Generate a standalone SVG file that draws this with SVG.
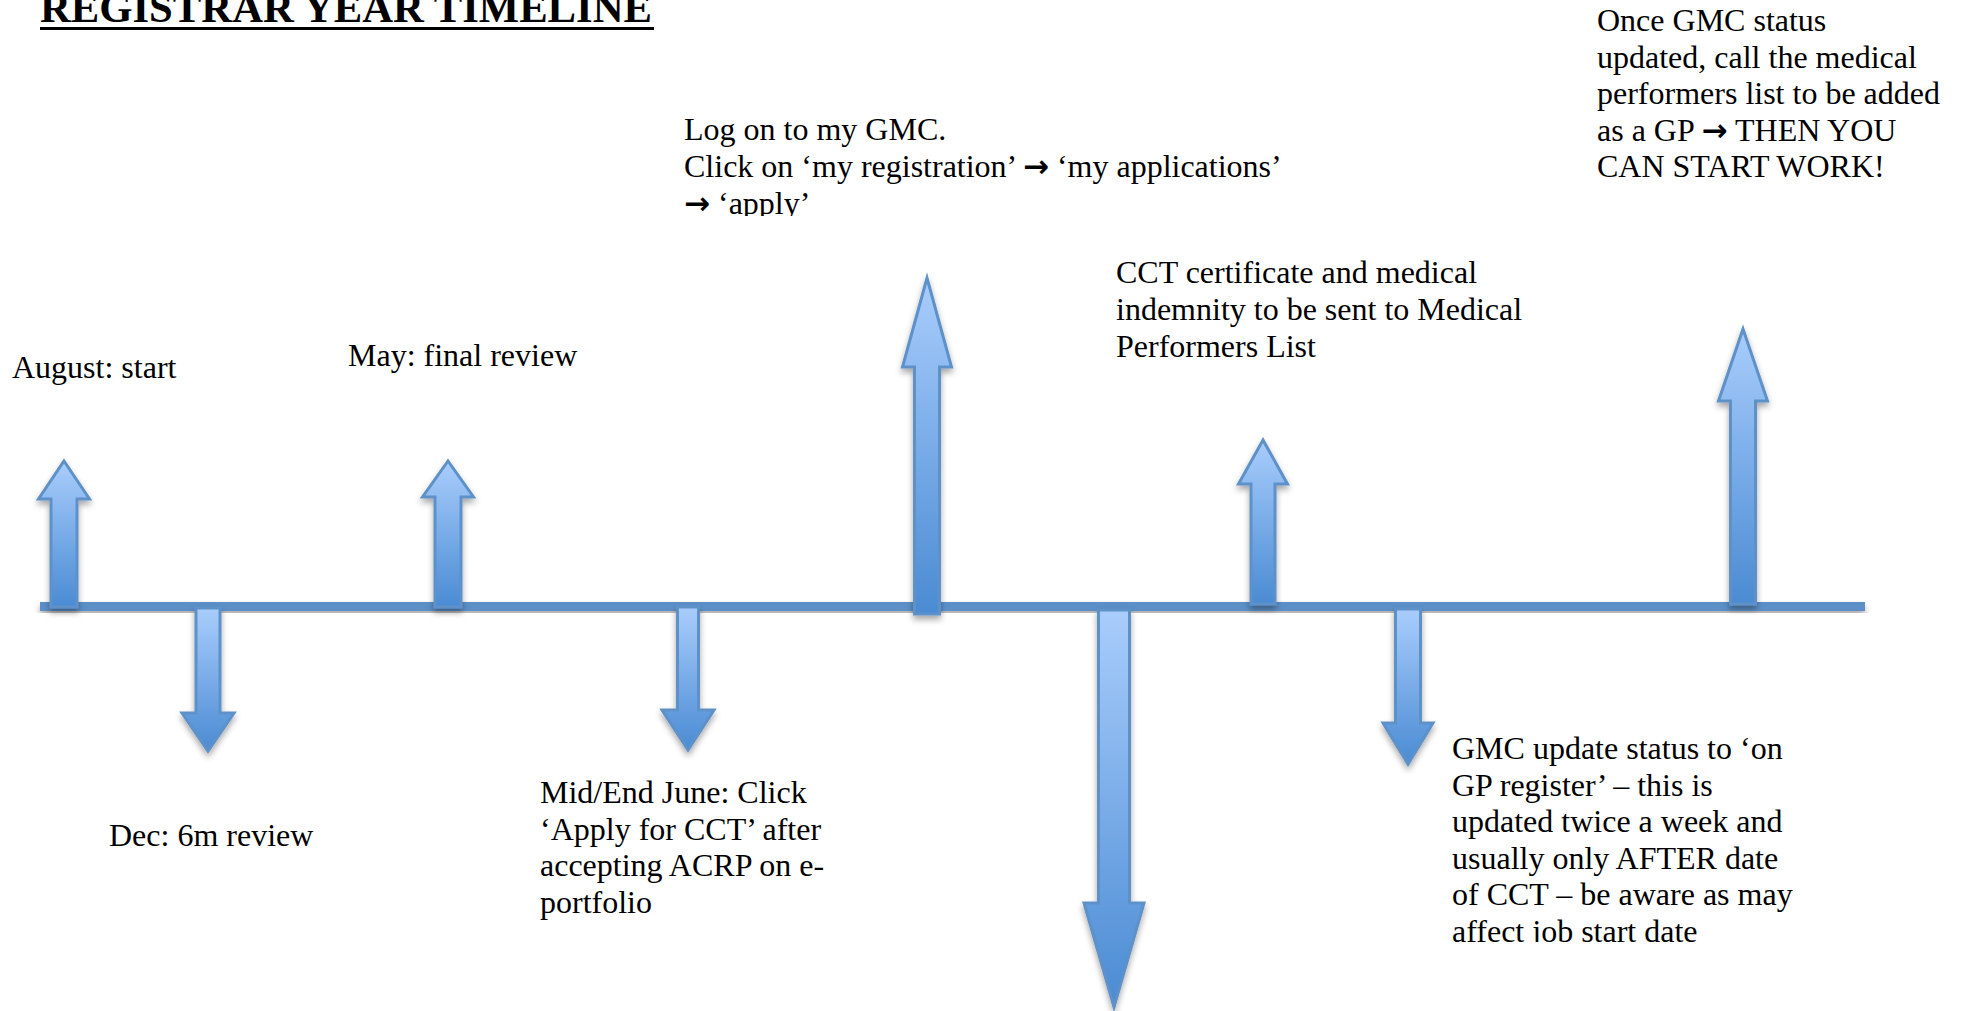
<svg xmlns="http://www.w3.org/2000/svg" width="1961" height="1011" viewBox="0 0 1961 1011">
<defs>
  <linearGradient id="g" x1="0" y1="0" x2="0" y2="1">
    <stop offset="0" stop-color="#a9cdfc"/>
    <stop offset="1" stop-color="#4a8bd3"/>
  </linearGradient>
  <filter id="sh" x="-30%" y="-10%" width="160%" height="130%">
    <feDropShadow dx="0" dy="4" stdDeviation="3" flood-color="#000" flood-opacity="0.35"/>
  </filter>
  <clipPath id="clipLog"><rect x="600" y="90" width="800" height="126"/></clipPath>
  <clipPath id="clipGmc"><rect x="1400" y="700" width="500" height="242"/></clipPath>
</defs>
<style>
  .t { font-family: "Liberation Serif", "Times New Roman", serif; font-size: 32px; fill: #000; }
  .title { font-family: "Liberation Serif", "Times New Roman", serif; font-size: 42.7px; font-weight: bold; fill: #000; }
  .ar { font-family: "DejaVu Sans", sans-serif; font-weight: bold; font-size: 31px; }
  .arr { fill: url(#g); stroke: #5e91c9; stroke-width: 3; stroke-linejoin: miter; filter: url(#sh); }
  .tl { fill: #5b8fc7; filter: url(#sh); }
</style>

<g id="title">
  <text class="title" x="40" y="22">REGISTRAR YEAR TIMELINE</text>
  <rect x="40" y="27" width="614" height="3" fill="#000"/>
</g>

<g id="connectors">
  <rect class="tl" x="40" y="602" width="1825" height="9"/>
</g>

<g id="n-august">
  <path class="arr" d="M64,461 L89.5,499 L77,499 L77,607 L51,607 L51,499 L38.5,499 Z"/>
  <text class="t" x="12" y="378">August: start</text>
</g>

<g id="n-dec">
  <path class="arr" d="M196,608 L220,608 L220,713 L234,713 L208,751 L182,713 L196,713 Z"/>
  <text class="t" x="109" y="846">Dec: 6m review</text>
</g>

<g id="n-may">
  <path class="arr" d="M448,461 L473.5,497 L461,497 L461,607 L435,607 L435,497 L422.5,497 Z"/>
  <text class="t" x="348" y="366">May: final review</text>
</g>

<g id="n-june">
  <path class="arr" d="M677.5,607 L698.5,607 L698.5,710 L714,710 L688,750 L662,710 L677.5,710 Z"/>
  <text class="t" x="540"><tspan x="540" y="803">Mid/End June: Click</tspan><tspan x="540" y="840">‘Apply for CCT’ after</tspan><tspan x="540" y="876">accepting ACRP on e-</tspan><tspan x="540" y="913">portfolio</tspan></text>
</g>

<g id="n-gmc-apply">
  <path class="arr" d="M927,278 L951.5,367 L939.5,367 L939.5,614 L914.5,614 L914.5,367 L902.5,367 Z"/>
  <g clip-path="url(#clipLog)">
    <text class="t"><tspan x="684" y="140">Log on to my GMC.</tspan><tspan x="684" y="177">Click on ‘my registration’ <tspan class="ar">→</tspan> ‘my applications’</tspan><tspan x="684" y="214"><tspan class="ar">→</tspan> ‘apply’</tspan></text>
  </g>
</g>

<g id="n-cct-issued">
  <path class="arr" d="M1098.5,610 L1129.5,610 L1129.5,903 L1144,903 L1114,1007 L1084,903 L1098.5,903 Z"/>
</g>

<g id="n-cct-cert">
  <path class="arr" d="M1263,440 L1287.5,484 L1275,484 L1275,604 L1251,604 L1251,484 L1238.5,484 Z"/>
  <text class="t"><tspan x="1116" y="283">CCT certificate and medical</tspan><tspan x="1116" y="320">indemnity to be sent to Medical</tspan><tspan x="1116" y="357">Performers List</tspan></text>
</g>

<g id="n-gmc-update">
  <path class="arr" d="M1395.5,609 L1420.5,609 L1420.5,723 L1433,723 L1408,764 L1383,723 L1395.5,723 Z"/>
  <g clip-path="url(#clipGmc)">
    <text class="t"><tspan x="1452" y="759">GMC update status to ‘on</tspan><tspan x="1452" y="796">GP register’ – this is</tspan><tspan x="1452" y="832">updated twice a week and</tspan><tspan x="1452" y="869">usually only AFTER date</tspan><tspan x="1452" y="905">of CCT – be aware as may</tspan><tspan x="1452" y="942">affect job start date</tspan></text>
  </g>
</g>

<g id="n-start-work">
  <path class="arr" d="M1743,329 L1767.5,401 L1755.5,401 L1755.5,604 L1730.5,604 L1730.5,401 L1718.5,401 Z"/>
  <text class="t"><tspan x="1597" y="31">Once GMC status</tspan><tspan x="1597" y="68">updated, call the medical</tspan><tspan x="1597" y="104">performers list to be added</tspan><tspan x="1597" y="141">as a GP <tspan class="ar">→</tspan> THEN YOU</tspan><tspan x="1597" y="177">CAN START WORK!</tspan></text>
</g>
</svg>
